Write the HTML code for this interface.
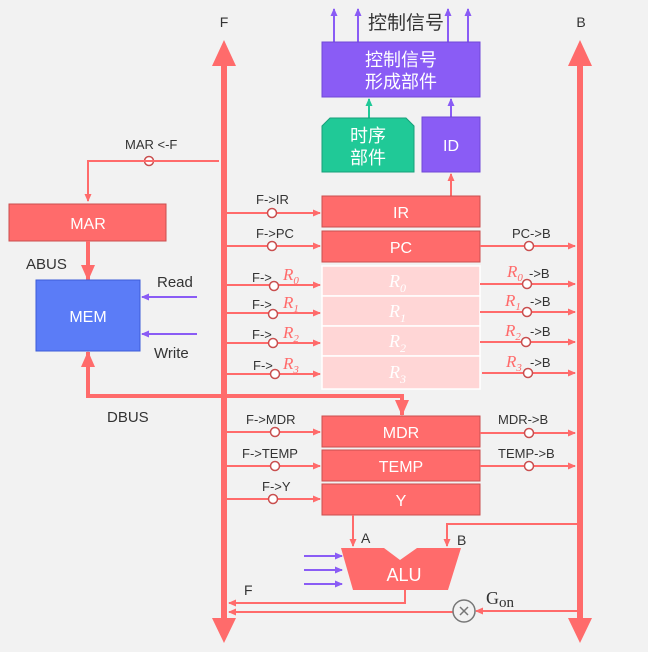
<!DOCTYPE html>
<html><head><meta charset="utf-8"><style>
body{margin:0;background:#f2f2f2}
text{font-family:"Liberation Sans","Noto Sans CJK SC",sans-serif}
text.s{font-family:"Liberation Serif","DejaVu Serif",serif;font-style:italic}
text.g{font-family:"Liberation Serif","DejaVu Serif",serif}
</style></head><body>
<svg width="648" height="647" viewBox="0 0 648 647" xmlns="http://www.w3.org/2000/svg">
<defs>
<marker id="ar" markerWidth="8" markerHeight="8" refX="7" refY="4" orient="auto" markerUnits="userSpaceOnUse"><path d="M0,0.5 L8,4 L0,7.5z" fill="#ff6b6b"/></marker>
<marker id="ap" markerWidth="8" markerHeight="8" refX="7" refY="4" orient="auto" markerUnits="userSpaceOnUse"><path d="M0,0.5 L8,4 L0,7.5z" fill="#8a5cf5"/></marker>
<marker id="ag" markerWidth="8" markerHeight="8" refX="7" refY="4" orient="auto" markerUnits="userSpaceOnUse"><path d="M0,0.5 L8,4 L0,7.5z" fill="#20c997"/></marker>
<marker id="ab" markerWidth="16" markerHeight="14" refX="15" refY="7" orient="auto" markerUnits="userSpaceOnUse"><path d="M0,0 L16,7 L0,14z" fill="#ff6b6b"/></marker>
</defs>
<rect width="648" height="647" fill="#f2f2f2"/>
<g fill="#ff6b6b">
<rect x="221" y="62" width="6" height="560"/>
<path d="M212,66 L224,40 L236,66z M212,618 L224,643 L236,618z"/>
<rect x="577" y="62" width="6" height="560"/>
<path d="M568,66 L580,40 L592,66z M568,618 L580,643 L592,618z"/>
</g>
<text x="224" y="27" font-size="14" fill="#333" text-anchor="middle">F</text>
<text x="581" y="27" font-size="14" fill="#333" text-anchor="middle">B</text>
<g stroke="#8a5cf5" stroke-width="2" marker-end="url(#ap)">
<line x1="334" y1="42" x2="334" y2="9"/><line x1="358" y1="42" x2="358" y2="9"/>
<line x1="448" y1="42" x2="448" y2="9"/><line x1="468" y1="42" x2="468" y2="9"/>
<line x1="451" y1="117" x2="451" y2="99"/>
</g>
<text x="406" y="29" font-size="19" fill="#333" text-anchor="middle">控制信号</text>
<rect x="322" y="42" width="158" height="55" fill="#8a5cf5" stroke="#7048d8"/>
<text x="401" y="66" font-size="18" fill="#fff" text-anchor="middle">控制信号</text>
<text x="401" y="88" font-size="18" fill="#fff" text-anchor="middle">形成部件</text>
<line x1="369" y1="118" x2="369" y2="99" stroke="#20c997" stroke-width="2" marker-end="url(#ag)"/>
<path d="M330,118 L406,118 L414,126 L414,172 L322,172 L322,126z" fill="#20c997" stroke="#17a07a"/>
<text x="368" y="142" font-size="18" fill="#fff" text-anchor="middle">时序</text>
<text x="368" y="164" font-size="18" fill="#fff" text-anchor="middle">部件</text>
<rect x="422" y="117" width="58" height="55" fill="#8a5cf5" stroke="#7048d8"/>
<text x="451" y="151" font-size="16" fill="#fff" text-anchor="middle">ID</text>
<line x1="451" y1="196" x2="451" y2="174" stroke="#ff6b6b" stroke-width="2" marker-end="url(#ar)"/>
<g stroke="#c94f4f" fill="#ff6b6b">
<rect x="322" y="196" width="158" height="31"/><rect x="322" y="231" width="158" height="31"/>
<rect x="322" y="416" width="158" height="31"/><rect x="322" y="450" width="158" height="31"/><rect x="322" y="484" width="158" height="31"/>
</g>
<g fill="#ffd6d6" stroke="#fff" stroke-width="1.5">
<rect x="322" y="266" width="158" height="30"/><rect x="322" y="296" width="158" height="30"/>
<rect x="322" y="326" width="158" height="30"/><rect x="322" y="356" width="158" height="33"/>
</g>
<g fill="#fff" font-size="16" text-anchor="middle">
<text x="401" y="218">IR</text><text x="401" y="253">PC</text>
<text x="401" y="438">MDR</text><text x="401" y="472">TEMP</text><text x="401" y="506">Y</text>
</g>
<g fill="#fff" font-size="18">
<text class="s" x="389" y="287">R<tspan font-size="12" dy="5">0</tspan></text>
<text class="s" x="389" y="317">R<tspan font-size="12" dy="5">1</tspan></text>
<text class="s" x="389" y="347">R<tspan font-size="12" dy="5">2</tspan></text>
<text class="s" x="389" y="378">R<tspan font-size="12" dy="5">3</tspan></text>
</g>
<g stroke="#ff6b6b" stroke-width="2" marker-end="url(#ar)">
<line x1="227" y1="213" x2="320" y2="213"/><line x1="227" y1="246" x2="320" y2="246"/>
<line x1="227" y1="285" x2="320" y2="285"/><line x1="227" y1="313" x2="320" y2="313"/>
<line x1="227" y1="343" x2="320" y2="343"/><line x1="227" y1="374" x2="320" y2="374"/>
<line x1="227" y1="432" x2="320" y2="432"/><line x1="227" y1="466" x2="320" y2="466"/>
<line x1="227" y1="499" x2="320" y2="499"/>
<line x1="480" y1="246" x2="575" y2="246"/><line x1="480" y1="284" x2="575" y2="284"/>
<line x1="480" y1="312" x2="575" y2="312"/><line x1="480" y1="342" x2="575" y2="342"/>
<line x1="482" y1="373" x2="575" y2="373"/><line x1="480" y1="433" x2="575" y2="433"/>
<line x1="480" y1="466" x2="575" y2="466"/>
</g>
<g fill="#fff" stroke="#c94f4f" stroke-width="1.5">
<circle cx="272" cy="213" r="4.5"/><circle cx="272" cy="246" r="4.5"/><circle cx="274" cy="286" r="4.5"/>
<circle cx="273" cy="314" r="4.5"/><circle cx="273" cy="343" r="4.5"/><circle cx="275" cy="374" r="4.5"/>
<circle cx="275" cy="432" r="4.5"/><circle cx="275" cy="466" r="4.5"/><circle cx="273" cy="499" r="4.5"/>
<circle cx="529" cy="246" r="4.5"/><circle cx="527" cy="284" r="4.5"/><circle cx="527" cy="312" r="4.5"/>
<circle cx="526" cy="342" r="4.5"/><circle cx="528" cy="373" r="4.5"/><circle cx="529" cy="433" r="4.5"/>
<circle cx="529" cy="466" r="4.5"/><circle cx="149" cy="161" r="4.5"/>
</g>
<g font-size="13" fill="#333">
<text x="256" y="204">F-&gt;IR</text><text x="256" y="238">F-&gt;PC</text>
<text x="252" y="282">F-&gt;</text><text x="252" y="309">F-&gt;</text><text x="252" y="339">F-&gt;</text><text x="253" y="370">F-&gt;</text>
<text x="246" y="424">F-&gt;MDR</text><text x="242" y="458">F-&gt;TEMP</text><text x="262" y="491">F-&gt;Y</text>
<text x="512" y="238">PC-&gt;B</text><text x="498" y="424">MDR-&gt;B</text><text x="498" y="458">TEMP-&gt;B</text>
<text x="529" y="278">-&gt;B</text><text x="530" y="306">-&gt;B</text><text x="530" y="336">-&gt;B</text><text x="530" y="367">-&gt;B</text>
<text x="125" y="149">MAR &lt;-F</text>
</g>
<g font-size="17" fill="#ff6b6b">
<text class="s" x="283" y="280">R<tspan font-size="11" dy="4">0</tspan></text>
<text class="s" x="283" y="308">R<tspan font-size="11" dy="4">1</tspan></text>
<text class="s" x="283" y="338">R<tspan font-size="11" dy="4">2</tspan></text>
<text class="s" x="283" y="369">R<tspan font-size="11" dy="4">3</tspan></text>
<text class="s" x="507" y="277">R<tspan font-size="11" dy="4">0</tspan></text>
<text class="s" x="505" y="306">R<tspan font-size="11" dy="4">1</tspan></text>
<text class="s" x="505" y="336">R<tspan font-size="11" dy="4">2</tspan></text>
<text class="s" x="506" y="367">R<tspan font-size="11" dy="4">3</tspan></text>
</g>
<path d="M219,161 L88,161 L88,201" fill="none" stroke="#ff6b6b" stroke-width="2" marker-end="url(#ar)"/>
<rect x="9" y="204" width="157" height="37" fill="#ff6b6b" stroke="#c94f4f"/>
<text x="88" y="229" font-size="16" fill="#fff" text-anchor="middle">MAR</text>
<line x1="88" y1="241" x2="88" y2="280" stroke="#ff6b6b" stroke-width="4" marker-end="url(#ab)"/>
<text x="26" y="269" font-size="15" fill="#333">ABUS</text>
<rect x="36" y="280" width="104" height="71" fill="#5b7cf7" stroke="#3c5cd8"/>
<text x="88" y="322" font-size="16" fill="#fff" text-anchor="middle">MEM</text>
<text x="157" y="287" font-size="15" fill="#333">Read</text>
<text x="154" y="358" font-size="15" fill="#333">Write</text>
<line x1="197" y1="297" x2="142" y2="297" stroke="#8a5cf5" stroke-width="2" marker-end="url(#ap)"/>
<line x1="197" y1="334" x2="142" y2="334" stroke="#8a5cf5" stroke-width="2" marker-end="url(#ap)"/>
<path d="M402,398 L402,396 L88,396 L88,352" fill="none" stroke="#ff6b6b" stroke-width="4" marker-end="url(#ab)"/>
<line x1="402" y1="396" x2="402" y2="415" stroke="#ff6b6b" stroke-width="4" marker-end="url(#ab)"/>
<text x="107" y="422" font-size="15" fill="#333">DBUS</text>
<line x1="353" y1="515" x2="353" y2="546" stroke="#ff6b6b" stroke-width="2" marker-end="url(#ar)"/>
<path d="M578,524 L447,524 L447,546" fill="none" stroke="#ff6b6b" stroke-width="2" marker-end="url(#ar)"/>
<text x="361" y="543" font-size="14" fill="#333">A</text>
<text x="457" y="545" font-size="14" fill="#333">B</text>
<path d="M341,548 L384,548 L400,560 L417,548 L461,548 L448,590 L353,590z" fill="#ff6b6b"/>
<text x="404" y="581" font-size="18" fill="#fff" text-anchor="middle">ALU</text>
<g stroke="#8a5cf5" stroke-width="2" marker-end="url(#ap)">
<line x1="304" y1="556" x2="342" y2="556"/><line x1="304" y1="570" x2="342" y2="570"/><line x1="304" y1="584" x2="342" y2="584"/>
</g>
<path d="M405,590 L405,603 L229,603" fill="none" stroke="#ff6b6b" stroke-width="2" marker-end="url(#ar)"/>
<text x="244" y="595" font-size="14" fill="#333">F</text>
<line x1="578" y1="611" x2="476" y2="611" stroke="#ff6b6b" stroke-width="2" marker-end="url(#ar)"/>
<line x1="454" y1="612" x2="229" y2="612" stroke="#ff6b6b" stroke-width="2" marker-end="url(#ar)"/>
<circle cx="464" cy="611" r="11" fill="#f2f2f2" stroke="#777" stroke-width="1.5"/>
<path d="M460,607 L468,615 M468,607 L460,615" stroke="#777" stroke-width="1.5"/>
<text class="g" x="486" y="604" font-size="18" fill="#333">G<tspan font-size="15" dy="3">on</tspan></text>
</svg>
</body></html>
